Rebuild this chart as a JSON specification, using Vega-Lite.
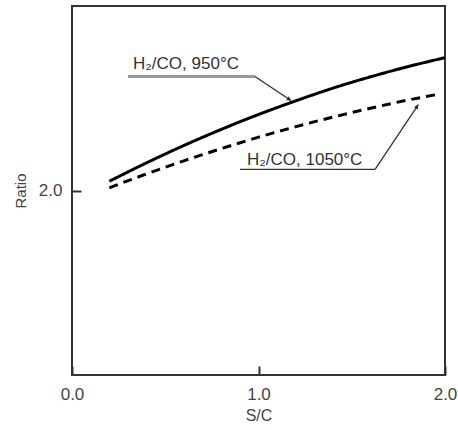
{
  "$schema": "https://vega.github.io/schema/vega-lite/v6.json",
  "autosize": "none",
  "width": 373,
  "height": 369,
  "padding": {"left": 72, "top": 6, "right": 13, "bottom": 55},
  "background": "white",
  "config": {
    "view": {"stroke": "#333", "strokeWidth": 2},
    "font": "Liberation Sans",
    "axis": {
      "grid": false,
      "domain": false,
      "tickColor": "#333",
      "tickWidth": 2,
      "tickSize": 9,
      "offset": -9,
      "labelFontSize": 17,
      "labelColor": "#444",
      "titleFontSize": 16,
      "titleFontWeight": "normal",
      "titleColor": "#444",
      "labelFlush": false
    }
  },
  "datasets": {
    "curves": [
      {"sc": 0.2, "ratio": 2.05, "series": "950"},
      {"sc": 0.4, "ratio": 2.15, "series": "950"},
      {"sc": 0.6, "ratio": 2.244, "series": "950"},
      {"sc": 0.8, "ratio": 2.331, "series": "950"},
      {"sc": 1.0, "ratio": 2.412, "series": "950"},
      {"sc": 1.2, "ratio": 2.486, "series": "950"},
      {"sc": 1.4, "ratio": 2.555, "series": "950"},
      {"sc": 1.6, "ratio": 2.616, "series": "950"},
      {"sc": 1.8, "ratio": 2.671, "series": "950"},
      {"sc": 2.0, "ratio": 2.72, "series": "950"},
      {"sc": 0.2, "ratio": 2.015, "series": "1050"},
      {"sc": 0.4, "ratio": 2.09, "series": "1050"},
      {"sc": 0.6, "ratio": 2.161, "series": "1050"},
      {"sc": 0.8, "ratio": 2.227, "series": "1050"},
      {"sc": 1.0, "ratio": 2.289, "series": "1050"},
      {"sc": 1.2, "ratio": 2.346, "series": "1050"},
      {"sc": 1.4, "ratio": 2.398, "series": "1050"},
      {"sc": 1.6, "ratio": 2.446, "series": "1050"},
      {"sc": 1.8, "ratio": 2.49, "series": "1050"},
      {"sc": 1.95, "ratio": 2.519, "series": "1050"}
    ],
    "leaders": [
      {"label": "950", "part": "under", "x1": 0.30, "y1": 2.618, "x2": 0.981, "y2": 2.618},
      {"label": "950", "part": "diag", "x1": 0.981, "y1": 2.618, "x2": 1.174, "y2": 2.488},
      {"label": "1050", "part": "under", "x1": 0.901, "y1": 2.114, "x2": 1.625, "y2": 2.114},
      {"label": "1050", "part": "diag", "x1": 1.625, "y1": 2.114, "x2": 1.857, "y2": 2.466}
    ],
    "arrows": [
      {"label": "950", "x": 1.165, "y": 2.494, "angle": 124},
      {"label": "1050", "x": 1.85, "y": 2.455, "angle": 33}
    ],
    "labels": [
      {"text": "H₂/CO, 950°C", "x": 0.327, "y": 2.683},
      {"text": "H₂/CO, 1050°C", "x": 0.938, "y": 2.168}
    ]
  },
  "layer": [
    {
      "data": {"name": "curves"},
      "mark": {"type": "line", "strokeWidth": 3, "color": "black", "interpolate": "monotone"},
      "encoding": {
        "x": {"field": "sc", "type": "quantitative", "scale": {"domain": [0, 2], "nice": false},
              "axis": {"values": [0, 1, 2], "format": ".1f", "title": "S/C", "labelPadding": 11, "titlePadding": 5}},
        "y": {"field": "ratio", "type": "quantitative", "scale": {"domain": [1, 3], "nice": false, "zero": false},
              "axis": {"values": [2], "format": ".1f", "title": "Ratio", "titleFontSize": 15, "labelPadding": 10, "titlePadding": 10}},
        "strokeDash": {"field": "series", "type": "nominal", "scale": {"domain": ["950", "1050"], "range": [[1, 0], [9, 6]]}, "legend": null},
        "detail": {"field": "series"}
      }
    },
    {
      "data": {"name": "leaders"},
      "transform": [{"filter": "datum.part === 'under' && datum.label === '950'"}],
      "mark": {"type": "rule", "color": "#999", "strokeWidth": 3},
      "encoding": {
        "x": {"field": "x1", "type": "quantitative"},
        "y": {"field": "y1", "type": "quantitative"},
        "x2": {"field": "x2"},
        "y2": {"field": "y2"}
      }
    },
    {
      "data": {"name": "leaders"},
      "transform": [{"filter": "!(datum.part === 'under' && datum.label === '950')"}],
      "mark": {"type": "rule", "color": "#333", "strokeWidth": 1.3},
      "encoding": {
        "x": {"field": "x1", "type": "quantitative"},
        "y": {"field": "y1", "type": "quantitative"},
        "x2": {"field": "x2"},
        "y2": {"field": "y2"}
      }
    },
    {
      "data": {"name": "arrows"},
      "mark": {"type": "point", "shape": "triangle-up", "filled": true, "color": "#222", "size": 22, "opacity": 1},
      "encoding": {
        "x": {"field": "x", "type": "quantitative"},
        "y": {"field": "y", "type": "quantitative"},
        "angle": {"field": "angle", "type": "quantitative", "scale": null}
      }
    },
    {
      "data": {"name": "labels"},
      "mark": {"type": "text", "align": "left", "baseline": "middle", "fontSize": 17, "color": "#333", "font": "Liberation Sans"},
      "encoding": {
        "x": {"field": "x", "type": "quantitative"},
        "y": {"field": "y", "type": "quantitative"},
        "text": {"field": "text"}
      }
    }
  ]
}
